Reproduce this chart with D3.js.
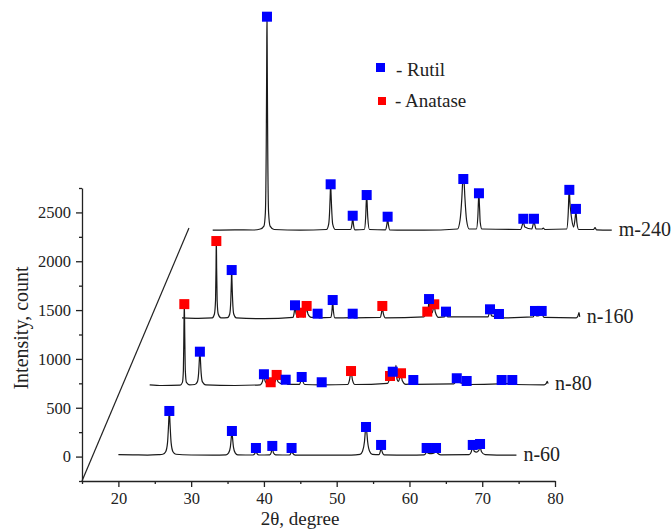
<!DOCTYPE html>
<html>
<head>
<meta charset="utf-8">
<script src="https://cdn.jsdelivr.net/npm/d3@7"></script>
<style>
  body { margin: 0; background: #fff; }
  svg text { font-family: "Liberation Serif", "Times New Roman", serif; fill: #222; }
</style>
</head>
<body>
<div id="chart"></div>
<script>
// XRD patterns, plotted positions: [2theta, count]
var n60 = [[20,20],[22,18],[24,15],[25.5,20],[26.1,24],[26.5,50],[26.75,140],[26.9,330],[27.0,480],[27.1,330],[27.25,140],[27.5,50],[27.9,24],[30,16],[33,14],
  [34.8,18],[35.15,38],[35.38,95],[35.52,200],[35.6,275],[35.68,200],[35.82,95],[36.05,38],[36.4,18],[38.5,16],[38.75,30],[38.9,70],[39.05,30],[39.3,16],
  [40.8,18],[41.0,40],[41.15,100],[41.3,40],[41.6,18],[43.5,16],[43.7,35],[43.8,70],[43.95,35],[44.3,15],[48,14],[52,15],
  [53.2,22],[53.55,55],[53.82,155],[53.96,280],[54.03,320],[54.1,280],[54.25,155],[54.52,55],[54.9,22],[55.8,20],[56.0,55],[56.1,110],[56.22,55],[56.5,18],
  [60,15],[62.0,18],[62.25,35],[62.36,65],[62.55,35],[63.0,30],[63.45,40],[63.65,70],[63.85,35],[64.3,18],
  [68.2,20],[68.5,50],[68.7,105],[68.9,55],[69.2,45],[69.5,60],[69.7,100],[69.9,50],[70.4,20],[72,15],[74.7,15]];

var n80 = [[24.3,735],[26,728],[28.5,732],[28.8,760],[28.93,880],[29.0,1250],[29.06,1590],[29.12,1250],[29.2,880],[29.35,760],[29.8,735],
  [30.5,738],[30.85,765],[31.03,860],[31.13,1000],[31.2,1100],[31.27,1000],[31.37,860],[31.55,765],[32,735],[36,728],
  [39.5,735],[39.8,770],[40.0,830],[40.15,775],[40.5,745],[40.93,765],[41.2,745],[41.55,770],[41.75,805],[41.95,765],[42.5,745],[42.99,765],[43.3,740],
  [44.9,740],[45.05,770],[45.19,810],[45.35,770],[45.6,738],[47.7,735],[47.94,750],[48.2,735],[51.5,738],[51.75,780],[51.97,870],[52.18,780],[52.5,738],
  [57.0,750],[57.3,790],[57.5,780],[57.8,800],[58.0,830],[58.15,935],[58.3,790],[58.5,770],[58.75,830],[58.84,845],[59.0,780],[59.5,740],
  [60.3,745],[60.53,775],[60.8,740],[66.1,745],[66.35,770],[66.5,795],[66.7,765],[67.6,748],[67.86,765],[68.2,738],
  [72.3,745],[72.67,775],[72.95,750],[73.8,748],[74.13,772],[74.5,738],[78.5,735],[78.8,750],[78.94,770],[79.05,748]];

var n160 = [[28.74,1420],[31,1415],[32.9,1420],[33.2,1460],[33.35,1600],[33.42,1950],[33.46,2240],[33.5,1950],[33.57,1600],[33.72,1460],[34.1,1420],
  [35.0,1422],[35.3,1460],[35.45,1600],[35.53,1800],[35.57,1940],[35.61,1800],[35.7,1600],[35.85,1460],[36.2,1420],[40,1412],
  [44.0,1425],[44.15,1470],[44.27,1530],[44.4,1470],[44.7,1425],[45.1,1460],[45.4,1430],[45.7,1470],[45.87,1520],[46.05,1460],[46.5,1425],
  [47.2,1425],[47.38,1440],[47.6,1420],[49.2,1425],[49.35,1490],[49.45,1590],[49.55,1490],[49.75,1420],[52.0,1422],[52.2,1445],[52.4,1420],
  [56.0,1425],[56.15,1470],[56.27,1525],[56.4,1470],[56.7,1420],[62.0,1430],[62.3,1470],[62.45,1480],[62.6,1530],[62.69,1600],[62.8,1520],
  [63.1,1470],[63.3,1520],[63.41,1540],[63.55,1480],[64.0,1425],[64.8,1430],[65.02,1465],[65.25,1430],[70.8,1430],[71.07,1490],[71.3,1440],
  [72.1,1430],[72.3,1445],[72.6,1420],[77.0,1430],[77.25,1470],[77.45,1440],[77.9,1445],[78.17,1460],[78.5,1425],[82.9,1420],[83.15,1440],[83.3,1475],[83.4,1430]];

var m240 = [[32.96,2318],[36,2322],[38.5,2320],[39.5,2330],[40.0,2360],[40.2,2500],[40.32,3200],[40.38,4000],[40.42,4540],[40.46,4000],[40.52,3200],[40.64,2500],[40.85,2360],[41.4,2325],
  [45,2318],[48.6,2325],[48.9,2380],[49.05,2550],[49.12,2700],[49.17,2810],[49.22,2700],[49.3,2550],[49.45,2380],[49.8,2325],
  [51.9,2325],[52.1,2380],[52.2,2450],[52.3,2380],[52.5,2322],[53.8,2325],[53.98,2450],[54.07,2620],[54.12,2690],[54.17,2620],[54.27,2450],[54.5,2325],
  [56.7,2322],[56.9,2380],[57.0,2440],[57.1,2380],[57.3,2320],[62,2318],[66.6,2330],[66.95,2420],[67.2,2650],[67.32,2820],[67.4,2860],[67.5,2820],[67.62,2650],[67.85,2420],[68.2,2330],
  [69.2,2330],[69.4,2460],[69.5,2650],[69.55,2700],[69.6,2600],[69.65,2520],[69.72,2400],[69.95,2330],[75.3,2325],[75.5,2370],[75.65,2400],[75.85,2350],
  [76.8,2330],[77.11,2400],[77.4,2330],[78.2,2330],[78.4,2340],[78.6,2325],[81.6,2330],[81.82,2500],[81.92,2700],[81.97,2740],[82.05,2600],[82.15,2520],
  [82.3,2430],[82.55,2350],[82.75,2430],[82.88,2510],[83.0,2400],[83.25,2325],[85.3,2325],[85.5,2345],[85.7,2322],[87.8,2318]];

var seriesNames = ["n-60", "n-80", "n-160", "m-240"];
var seriesData = [n60, n80, n160, m240];

// phase markers [2theta, count]
var rutil = [[27.0,467],[35.6,262],[38.9,88],[41.15,109],[43.8,88],[54.03,303],[56.1,119],[62.36,88],[63.65,88],[68.7,119],[69.7,129],
  [31.2,1074],[40.0,843],[42.99,787],[45.19,815],[47.94,761],[57.7,869],[60.53,784],[66.5,802],[67.86,774],[72.67,784],[74.13,784],
  [35.57,1910],[44.27,1549],[47.38,1463],[49.45,1603],[52.2,1463],[62.69,1613],[65.02,1484],[71.07,1508],[72.3,1460],[77.25,1491],[78.17,1491],
  [40.42,4504],[49.17,2788],[52.2,2466],[54.12,2678],[57.0,2456],[67.4,2842],[69.55,2696],[75.65,2435],[77.11,2435],[81.97,2731],[82.88,2536]];
var anatase = [[29.06,1561],[40.93,761],[41.75,836],[51.97,876],[57.33,825],[58.84,853],
  [33.46,2207],[45.1,1473],[45.87,1542],[56.27,1542],[62.45,1484],[63.41,1559]];

// depth axis of the waterfall
var depthLine = [[15,-250],[29.7,2340]];

var xMajor = [20, 30, 40, 50, 60, 70, 80];
var xMinor = [15, 25, 35, 45, 55, 65, 75];
var yMajor = [0, 500, 1000, 1500, 2000, 2500];
var yMinor = [-250, 250, 750, 1250, 1750, 2250, 2750];

var w = 672, h = 530;
var svg = d3.select("#chart").append("svg").attr("width", w).attr("height", h);

var x = d3.scaleLinear().domain([15, 80]).range([82, 555]);
var y = d3.scaleLinear().domain([-250, 2750]).range([481, 188]);

// axes
svg.append("g").attr("transform", "translate(0,481)")
  .call(d3.axisBottom(x).tickValues(xMinor).tickSize(3).tickSizeOuter(0).tickFormat(""))
  .call(function(g){ g.select(".domain").remove(); });
svg.append("g").attr("transform", "translate(0,481)")
  .call(d3.axisBottom(x).tickValues(xMajor).tickSize(6).tickSizeOuter(0).tickPadding(5))
  .call(function(g){ g.selectAll("text").attr("font-size", 16.5).attr("font-family", "Liberation Serif").attr("fill", "#222"); });

svg.append("g").attr("transform", "translate(82,0)")
  .call(d3.axisLeft(y).tickValues(yMinor).tickSize(3).tickSizeOuter(0).tickFormat(""))
  .call(function(g){ g.select(".domain").remove(); });
svg.append("g").attr("transform", "translate(82,0)")
  .call(d3.axisLeft(y).tickValues(yMajor).tickSize(6).tickSizeOuter(0).tickPadding(5).tickFormat(d3.format("d")))
  .call(function(g){ g.selectAll("text").attr("font-size", 16.5).attr("font-family", "Liberation Serif").attr("fill", "#222"); });

svg.selectAll(".domain, .tick line").attr("stroke", "#222").attr("stroke-width", 1.3);

svg.append("text").attr("x", 300).attr("y", 525).attr("text-anchor", "middle")
  .attr("font-size", 19).text("2θ, degree");
svg.append("text").attr("transform", "translate(28,328) rotate(-90)").attr("text-anchor", "middle")
  .attr("font-size", 20).text("Intensity, count");

var line = d3.line().x(function(d){ return x(d[0]); }).y(function(d){ return y(d[1]); });

svg.append("path").attr("d", line(depthLine)).attr("fill", "none")
  .attr("stroke", "#222").attr("stroke-width", 1.2);

// patterns
seriesData.forEach(function(s, i){
  svg.append("path").attr("d", line.curve(d3.curveMonotoneX)(s))
    .attr("fill", "none").attr("stroke", "#1a1a1a").attr("stroke-width", 1.2);
  var last = s[s.length - 1];
  svg.append("text").attr("x", x(last[0]) + 7).attr("y", y(last[1]) + 6)
    .attr("font-size", 20).text(seriesNames[i]);
});

var ms = 10;
svg.append("g").selectAll("rect").data(anatase).enter().append("rect")
  .attr("x", function(d){ return x(d[0]) - ms/2; }).attr("y", function(d){ return y(d[1]) - ms/2; })
  .attr("width", ms).attr("height", ms).attr("fill", "#ff0000");
svg.append("g").selectAll("rect").data(rutil).enter().append("rect")
  .attr("x", function(d){ return x(d[0]) - ms/2; }).attr("y", function(d){ return y(d[1]) - ms/2; })
  .attr("width", ms).attr("height", ms).attr("fill", "#0000ff");

// legend
svg.append("rect").attr("x", 376).attr("y", 63).attr("width", 9).attr("height", 9).attr("fill", "#0000ff");
svg.append("text").attr("x", 396).attr("y", 76).attr("font-size", 19).text("- Rutil");
svg.append("rect").attr("x", 378).attr("y", 97).attr("width", 8).attr("height", 8).attr("fill", "#ff0000");
svg.append("text").attr("x", 395).attr("y", 107).attr("font-size", 19).text("- Anatase");
</script>
</body>
</html>
